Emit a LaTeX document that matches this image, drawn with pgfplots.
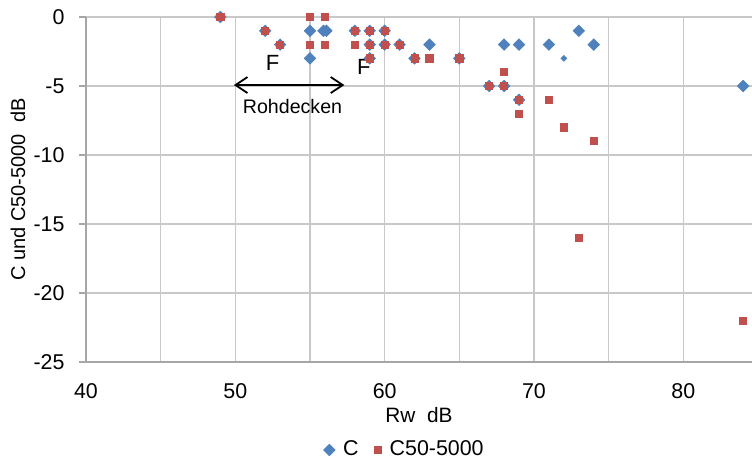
\documentclass[border=0pt]{standalone}
\usepackage{fontspec}
\setmainfont{Liberation Sans}
\usepackage{pgfplots}
\pgfplotsset{compat=1.18}
\usetikzlibrary{arrows.meta}

\definecolor{cblue}{HTML}{4F81BD}
\definecolor{cred}{HTML}{C0504D}
\definecolor{gridgray}{HTML}{C8C8C8}
\definecolor{axgray}{HTML}{A6A6A6}

\begin{document}
\fontsize{10.7}{12.5}\selectfont
\begin{tikzpicture}
\useasboundingbox (-43pt,-49.5pt) rectangle (333pt,181pt);
\begin{axis}[
    scale only axis,
    width=333pt, height=172.5pt,
    xmin=40, xmax=84.6,
    ymin=-25, ymax=0,
    xtick={40,50,...,80},
    minor xtick={45,55,...,85},
    ytick={-25,-20,...,0},
    grid=both,
    major grid style={gridgray, line width=0.6pt},
    minor grid style={gridgray, line width=0.6pt},
    axis x line*=bottom,
    axis y line*=left,
    axis line style={axgray, line width=0.7pt},
    x axis line style={-},
    y axis line style={-},
    xtick style={draw=none},
    ytick style={axgray, line width=0.7pt},
    tick align=outside,
    major tick length=3.5pt,
    minor tick length=0pt,
    /pgf/number format/assume math mode=true,
    ticklabel style={font=\fontsize{10.7}{12.5}\selectfont},
    xticklabel style={yshift=-3.5pt},
    yticklabel style={xshift=-3.5pt},
    xlabel={Rw\ \ dB},
    ylabel={C und C50-5000\ \ dB},
    xlabel style={at={(axis description cs:0.5,-0.154)}, anchor=center,
        font=\fontsize{10.4}{12}\selectfont},
    ylabel style={at={(axis description cs:-0.102,0.50)}, anchor=center,
        font=\fontsize{10}{12}\selectfont},
    clip=false,
    legend columns=2,
    legend style={at={(axis description cs:0.48,-0.255)}, anchor=center, draw=none,
        font=\fontsize{10.7}{12.5}\selectfont, column sep=2pt,
        /tikz/every even column/.append style={column sep=6pt}},
    legend image code/.code={\draw[#1] plot coordinates {(0.15cm,0cm)};},
]
\addplot[only marks, mark=square*, mark size=2pt, color=cblue,
    mark options={fill=cblue, draw=cblue, rotate=45}]
coordinates {
(49,0) (52,-1) (53,-2) (55,-1) (55,-3) (55.9,-1) (56.1,-1)
(58,-1) (59,-1) (59,-2) (59,-3) (60,-1) (60,-2) (61,-2) (62,-3) (63,-2)
(65,-3) (67,-5) (68,-2) (68,-5) (69,-2) (69,-6) (71,-2) (73,-1) (74,-2) (84,-5)
};
\addlegendentry{C}
\addplot[only marks, mark=square*, mark size=1.8pt, color=cred, mark options={fill=cred, draw=cred}]
coordinates {
(49,0) (52,-1) (53,-2) (55,0) (55,-2) (56,0) (56,-2) (58,-1) (58,-2)
(59,-1) (59,-2) (59,-3) (60,-1) (60,-2) (61,-2) (62,-3) (63,-3) (65,-3)
(67,-5) (68,-4) (68,-5) (69,-6) (69,-7) (71,-6) (72,-8) (73,-16) (74,-9) (84,-22)
};
\addlegendentry{C50-5000}
\addplot[only marks, mark=square*, mark size=1pt, color=cblue,
    mark options={rotate=45}, forget plot]
coordinates {(72,-3)};

\node[font=\fontsize{11}{13}\selectfont] at (axis cs:52.5,-3.33) {F};
\node[font=\fontsize{11}{13}\selectfont] at (axis cs:58.6,-3.62) {F};
\draw[{Straight Barb[length=6pt,width=8pt]}-{Straight Barb[length=6pt,width=8pt]}, line width=0.9pt, black]
    (axis cs:49.9,-4.93) -- (axis cs:57.3,-4.93);
\node[font=\fontsize{9.8}{11.5}\selectfont] at (axis cs:53.83,-6.49) {Rohdecken};
\end{axis}
\end{tikzpicture}
\end{document}
